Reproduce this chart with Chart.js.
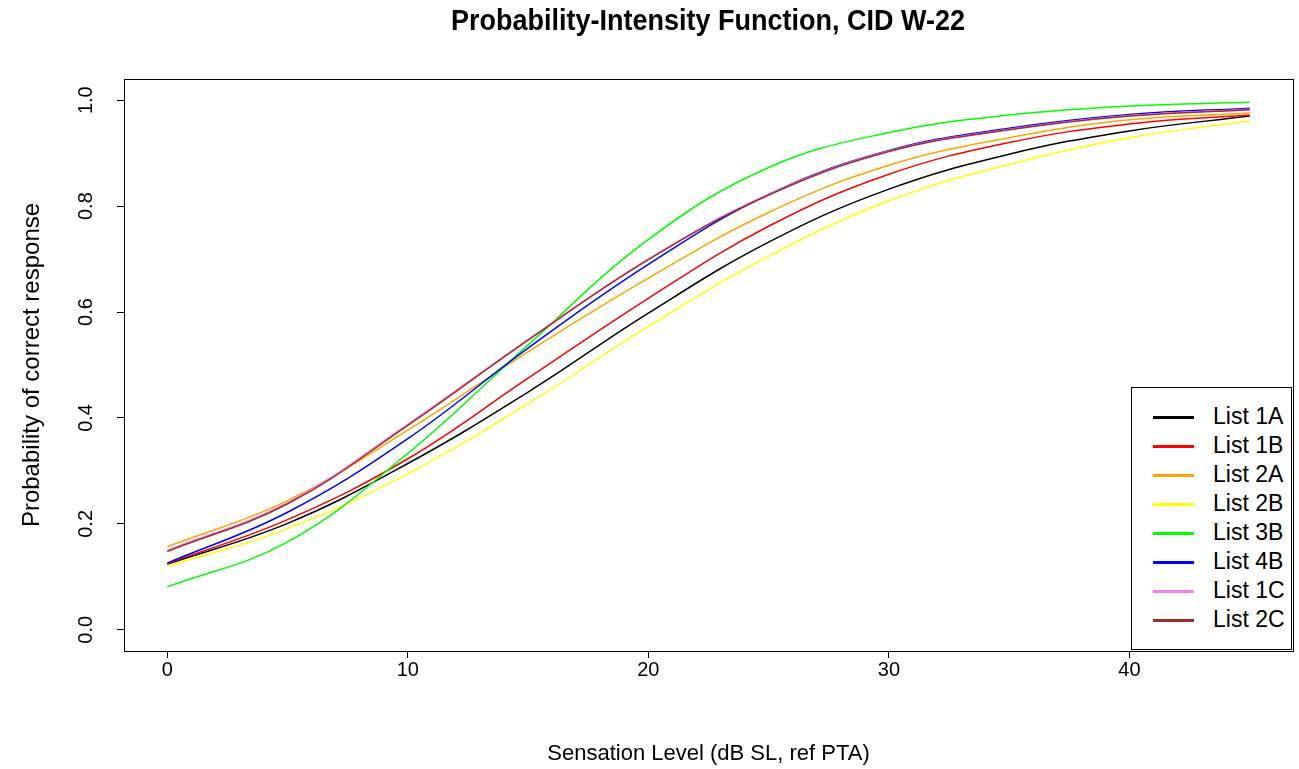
<!DOCTYPE html>
<html lang="en">
<head>
    <meta charset="UTF-8">
    <title>Probability-Intensity Function, CID W-22</title>
    <script src="https://cdn.jsdelivr.net/npm/chart.js"></script>
    <style>
        body { margin: 0; background: #fff; font-family: "Liberation Sans", Arial, sans-serif; }
        #wrap { position: relative; width: 1299px; height: 769px; }
        #title {
            position: absolute; top: 5px; left: 708px; transform: translateX(-50%) scaleY(1.1);
            font-size: 27px; font-weight: bold; white-space: nowrap; color: #000;
        }
        #legend {
            position: absolute; left: 1131px; top: 387px; width: 161px; height: 263px;
            border: 1px solid #000; background: #fff; box-sizing: border-box;
        }
        .row { position: absolute; left: 0; height: 29px; width: 100%; }
        .row span.sw { position: absolute; left: 21px; top: 13px; width: 41px; height: 3px; }
        .row span.lb { position: absolute; left: 81px; top: 0px; font-size: 23px; color: #000; }
    </style>
</head>
<body>
<div id="wrap">
    <canvas id="chart" width="1299" height="769"></canvas>
    <div id="title">Probability-Intensity Function, CID W-22</div>
    <div id="legend"></div>
</div>
<script>
    // sensation level (dB SL)
    const levels = [0, 5, 10, 15, 20, 25, 30, 35, 40, 45];

    const list1A = [0.124, 0.201, 0.314, 0.449, 0.598, 0.732, 0.832, 0.898, 0.942, 0.970];
    const list1B = [0.125, 0.208, 0.323, 0.475, 0.626, 0.762, 0.860, 0.920, 0.955, 0.972];
    const list2A = [0.157, 0.244, 0.377, 0.525, 0.664, 0.788, 0.877, 0.929, 0.963, 0.976];
    const list2B = [0.120, 0.191, 0.295, 0.427, 0.573, 0.705, 0.810, 0.879, 0.929, 0.961];
    const list3B = [0.081, 0.166, 0.333, 0.538, 0.737, 0.873, 0.939, 0.972, 0.989, 0.996];
    const list4B = [0.126, 0.222, 0.361, 0.532, 0.690, 0.822, 0.905, 0.947, 0.973, 0.985];
    const list1C = [0.150, 0.240, 0.388, 0.548, 0.700, 0.822, 0.904, 0.945, 0.971, 0.983];
    const list2C = [0.148, 0.238, 0.386, 0.547, 0.699, 0.821, 0.903, 0.944, 0.970, 0.982];

    const names = ['List 1A', 'List 1B', 'List 2A', 'List 2B', 'List 3B', 'List 4B', 'List 1C', 'List 2C'];
    const series = [list1A, list1B, list2A, list2B, list3B, list4B, list1C, list2C];
    const colors = ['#000000', '#FF0000', '#FFA500', '#FFFF00', '#00FF00', '#0000FF', '#EE82EE', '#A52A2A'];

    const xTicks = [0, 10, 20, 30, 40];
    const yTicks = [0, 0.2, 0.4, 0.6, 0.8, 1.0];

    const font = "'Liberation Sans', Arial, sans-serif";

    // legend, built from the same arrays
    const legend = document.getElementById('legend');
    names.forEach((n, i) => {
        const row = document.createElement('div');
        row.className = 'row';
        row.style.top = (15 + i * 29) + 'px';
        row.innerHTML = `<span class="sw" style="background:${colors[i]}"></span><span class="lb">${n}</span>`;
        legend.appendChild(row);
    });

    // box around the plot region
    const boxPlugin = {
        id: 'box',
        afterDraw(chart) {
            const a = chart.chartArea, ctx = chart.ctx;
            ctx.save();
            ctx.strokeStyle = '#000';
            ctx.lineWidth = 1;
            ctx.strokeRect(Math.round(a.left) + 0.5, Math.round(a.top) + 0.5,
                Math.round(a.right - a.left), Math.round(a.bottom - a.top));
            ctx.restore();
        }
    };

    new Chart(document.getElementById('chart').getContext('2d'), {
        type: 'line',
        data: {
            datasets: series.map((s, i) => ({
                label: names[i],
                data: s.map((v, j) => ({ x: levels[j], y: v })),
                borderColor: colors[i],
                borderWidth: 1.5,
                pointRadius: 0,
                fill: false,
                tension: 0.4,
                order: series.length - i
            }))
        },
        options: {
            responsive: false,
            animation: false,
            layout: { padding: { top: 79, right: 6, left: 0, bottom: 0 } },
            plugins: {
                legend: { display: false },
                title: { display: false },
                tooltip: { enabled: false }
            },
            scales: {
                x: {
                    type: 'linear',
                    min: -1.8, max: 46.8,
                    afterBuildTicks: s => { s.ticks = xTicks.map(v => ({ value: v })); },
                    afterFit: s => { s.height = 118; },
                    grid: { drawOnChartArea: false, drawTicks: true, tickLength: 7, color: '#000' },
                    border: { display: true, color: '#000' },
                    ticks: { color: '#000', padding: 0, font: { family: font, size: 20 }, maxRotation: 0 },
                    title: {
                        display: true, text: 'Sensation Level (dB SL, ref PTA)',
                        color: '#000', font: { family: font, size: 22 }, padding: { top: 4, bottom: 2 }
                    }
                },
                y: {
                    min: -0.04, max: 1.04,
                    afterBuildTicks: s => { s.ticks = yTicks.map(v => ({ value: v })); },
                    afterFit: s => { s.width = 124; },
                    grid: { drawOnChartArea: false, drawTicks: true, tickLength: 7, color: '#000' },
                    border: { display: true, color: '#000' },
                    ticks: {
                        color: '#000', padding: 17, crossAlign: 'center',
                        minRotation: 90, maxRotation: 90,
                        font: { family: font, size: 20 },
                        callback: v => v.toFixed(1)
                    },
                    title: {
                        display: true, text: 'Probability of correct response',
                        color: '#000', font: { family: font, size: 24 }, padding: { top: 18, bottom: 4 }
                    }
                }
            }
        },
        plugins: [boxPlugin]
    });
</script>
</body>
</html>
